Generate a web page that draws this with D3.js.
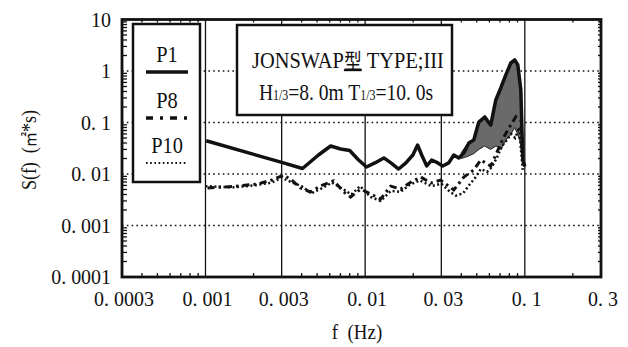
<!DOCTYPE html>
<html><head><meta charset="utf-8">
<script src="https://cdn.jsdelivr.net/npm/d3@7"></script>
<style>
body{margin:0;background:#fff}
</style>
</head><body>
<svg id="c" width="628" height="347" font-family="'Liberation Serif','Times New Roman',serif"></svg>
<script>
// ---------- data ----------
const xTicks=[0.0003,0.001,0.003,0.01,0.03,0.1,0.3];
const xTickLabels=["0. 0003","0. 001","0. 003","0. 01","0. 03","0. 1","0. 3"];
const xGrid=[0.001,0.003,0.01,0.03,0.1];
const yTicks=[0.0001,0.001,0.01,0.1,1,10];
const yTickLabels=["0. 0001","0. 001","0. 01","0. 1","1","10"];
const yGrid=[0.001,0.01,0.1,1];
const seriesNames=["P1","P8","P10"];

const p1F=[0.00101,0.00308,0.00405,0.0051,0.00608,0.00702,0.0080,0.0091,0.0102,0.0115,0.0131,0.0145,0.0162,0.0180,0.0199,0.0213,0.0226,0.0243,0.0261,0.0285,0.0306,0.0334,0.0359,0.0386,0.0415,0.0446,0.0479,0.0515,0.0561,0.0612,0.0658,0.0707,0.076,0.0817,0.0865,0.0904,0.0944,0.0972,0.100];
const p1S=[0.0443,0.0164,0.0128,0.0234,0.035,0.0306,0.0286,0.0187,0.0137,0.0164,0.0205,0.0164,0.0125,0.0164,0.0234,0.0366,0.0234,0.0143,0.0187,0.0164,0.0143,0.0164,0.0234,0.0205,0.0256,0.040,0.0457,0.102,0.128,0.089,0.274,0.468,0.84,1.43,1.64,1.31,0.43,0.0187,0.014];

const p8F=[0.00103,0.0015,0.00212,0.0026,0.00308,0.00346,0.00394,0.00455,0.00526,0.00635,0.00733,0.0081,0.00938,0.0108,0.0125,0.01445,0.0167,0.0193,0.0223,0.0258,0.0297,0.0359,0.0415,0.0479,0.053,0.0612,0.0678,0.0738,0.0817,0.0879,0.0944,0.097];
const p8S=[0.00535,0.00572,0.0064,0.00764,0.00957,0.00764,0.00535,0.00447,0.0059,0.0074,0.0045,0.00357,0.0051,0.0041,0.00327,0.0058,0.0051,0.0069,0.00875,0.0067,0.0076,0.0049,0.0087,0.012,0.0187,0.0143,0.029,0.052,0.09,0.13,0.11,0.02];

const p10F=[0.001,0.0015,0.002,0.0026,0.003,0.0035,0.004,0.0046,0.0053,0.0062,0.0072,0.0082,0.0093,0.0108,0.0125,0.0145,0.0167,0.019,0.022,0.026,0.030,0.034,0.037,0.041,0.045,0.049,0.053,0.058,0.062,0.067,0.072,0.077,0.082,0.087,0.092,0.097];
const p10S=[0.0058,0.0055,0.006,0.0068,0.0085,0.0068,0.0058,0.0042,0.0052,0.0068,0.0052,0.004,0.0058,0.0036,0.003,0.0047,0.0045,0.0062,0.0075,0.0058,0.0065,0.0045,0.0038,0.0042,0.0062,0.0085,0.0125,0.011,0.0135,0.021,0.035,0.045,0.06,0.05,0.08,0.012];

// dense oscillation band of P1 near the peak
const bandF=[0.040,0.044,0.048,0.0515,0.056,0.061,0.066,0.071,0.076,0.082,0.0865,0.090,0.094,0.097];
const bandHigh=[0.026,0.04,0.0457,0.102,0.128,0.089,0.274,0.468,0.84,1.43,1.64,1.31,0.43,0.02];
const bandLow=[0.02,0.022,0.025,0.03,0.035,0.03,0.035,0.03,0.045,0.06,0.08,0.06,0.04,0.015];

// ---------- chart ----------
const svg=d3.select("#c");
const L=122,R=601,T=19.5,B=277;
const x=d3.scaleLog().domain([0.0003,0.3]).range([L,R]);
const y=d3.scaleLog().domain([0.0001,10]).range([B,T]);

function txt(g,px,py,s,size,anchor,sx){
  return g.append("text").attr("transform",`translate(${px},${py}) scale(${sx||0.85},1)`)
    .attr("text-anchor",anchor||"middle").attr("font-size",size).attr("fill","#111").text(s);
}

// grid
const grid=svg.append("g");
grid.selectAll(".vg").data(xGrid).join("line")
  .attr("x1",d=>x(d)).attr("x2",d=>x(d)).attr("y1",T).attr("y2",B)
  .attr("stroke","#111").attr("stroke-width",1.3);
grid.selectAll(".hg").data(yGrid).join("line")
  .attr("x1",L).attr("x2",R).attr("y1",d=>y(d)).attr("y2",d=>y(d))
  .attr("stroke","#111").attr("stroke-width",1.6).attr("stroke-dasharray","1.6,3.2");

// band
const band=bandF.map((f,i)=>({f,h:bandHigh[i],l:bandLow[i]}));
svg.append("path").datum(band)
  .attr("d",d3.area().x(d=>x(d.f)).y0(d=>y(d.l)).y1(d=>y(d.h)))
  .attr("fill","#6a6a6a").attr("stroke","#222").attr("stroke-width",1);

const line=d3.line().x(d=>x(d.f)).y(d=>y(d.s));
const mk=(F,S)=>F.map((f,i)=>({f,s:S[i]}));
svg.append("path").datum(mk(p10F,p10S)).attr("d",line)
  .attr("fill","none").attr("stroke","#111").attr("stroke-width",2.5).attr("stroke-dasharray","2,2.5");
svg.append("path").datum(mk(p8F,p8S)).attr("d",line)
  .attr("fill","none").attr("stroke","#111").attr("stroke-width",3).attr("stroke-dasharray","7,4,2.5,4");
svg.append("path").datum(mk(p1F,p1S)).attr("d",line)
  .attr("fill","none").attr("stroke","#111").attr("stroke-width",3.5).attr("stroke-linejoin","round");

// legend
const lg=svg.append("g");
lg.append("rect").attr("x",133).attr("y",24).attr("width",67).attr("height",158)
  .attr("fill","#fff").attr("stroke","#111").attr("stroke-width",2.5);
const legY=[62,108,153];
const dashes=[null,"7,7,3,7","1.6,2.6"];
const widths=[3.5,3.5,2.2];
seriesNames.forEach((n,i)=>{
  txt(lg,167,legY[i],n,24,"middle",0.85);
  lg.append("line").attr("x1",146).attr("x2",188).attr("y1",legY[i]+10).attr("y2",legY[i]+10)
    .attr("stroke","#111").attr("stroke-width",widths[i]).attr("stroke-dasharray",dashes[i]);
});

// title box
const tb=svg.append("g");
tb.append("rect").attr("x",237).attr("y",25).attr("width",215).attr("height",90)
  .attr("fill","#fff").attr("stroke","#111").attr("stroke-width",2.5);
const t1=tb.append("text").attr("transform","translate(348,68) scale(0.85,1)")
  .attr("text-anchor","middle").attr("font-size",24).attr("fill","#111");
t1.append("tspan").text("JONSWAP");
t1.append("tspan").attr("font-family","Noto Sans CJK JP").attr("font-size",21).attr("text-decoration","underline").text("型");
t1.append("tspan").text(" TYPE;III");
const t2=tb.append("text").attr("transform","translate(346,100) scale(0.85,1)")
  .attr("text-anchor","middle").attr("font-size",23).attr("fill","#111").attr("xml:space","preserve");
t2.append("tspan").text("H");
t2.append("tspan").attr("font-size",14).text("1/3");
t2.append("tspan").text("=8. 0m T");
t2.append("tspan").attr("font-size",14).text("1/3");
t2.append("tspan").text("=10. 0s");

// frame
svg.append("rect").attr("x",L).attr("y",T).attr("width",R-L).attr("height",B-T)
  .attr("fill","none").attr("stroke","#111").attr("stroke-width",2.8);

// minor ticks
const yMinor=[];
for(let e=-4;e<1;e++)for(let k=2;k<=9;k++)yMinor.push(k*Math.pow(10,e));
const xMinor=[];
for(let e=-4;e<0;e++)for(let k=2;k<=9;k++){const v=k*Math.pow(10,e);if(v>0.0003&&v<0.3&&k!==3)xMinor.push(v);}
const tk=svg.append("g").attr("stroke","#111").attr("stroke-width",1.3);
tk.selectAll(".yl").data(yMinor).join("line").attr("x1",L).attr("x2",L+5).attr("y1",d=>y(d)).attr("y2",d=>y(d));
tk.selectAll(".yr").data(yMinor).join("line").attr("x1",R).attr("x2",R-3).attr("y1",d=>y(d)).attr("y2",d=>y(d));
tk.selectAll(".xb").data(xMinor).join("line").attr("x1",d=>x(d)).attr("x2",d=>x(d)).attr("y1",B).attr("y2",B-4);
tk.selectAll(".xt").data(xMinor).join("line").attr("x1",d=>x(d)).attr("x2",d=>x(d)).attr("y1",T).attr("y2",T+3);

// tick labels
const ax=svg.append("g");
xTicks.forEach((v,i)=>txt(ax,x(v)+2,306,xTickLabels[i],21,"middle",0.95));
yTicks.forEach((v,i)=>txt(ax,111,y(v)+7,yTickLabels[i],21,"end",0.95));

// axis titles
txt(svg,357,339,"f  (Hz)",21,"middle",0.9).attr("xml:space","preserve");
const yt=svg.append("text").attr("transform","translate(36,150) rotate(-90) scale(0.9,1)")
  .attr("text-anchor","middle").attr("font-size",20).attr("fill","#111").attr("xml:space","preserve");
yt.append("tspan").text("S(f)  (");
yt.append("tspan").attr("font-family","Noto Sans CJK JP").attr("font-size",17).text("㎡");
yt.append("tspan").text("*s)");
</script>
</body></html>
